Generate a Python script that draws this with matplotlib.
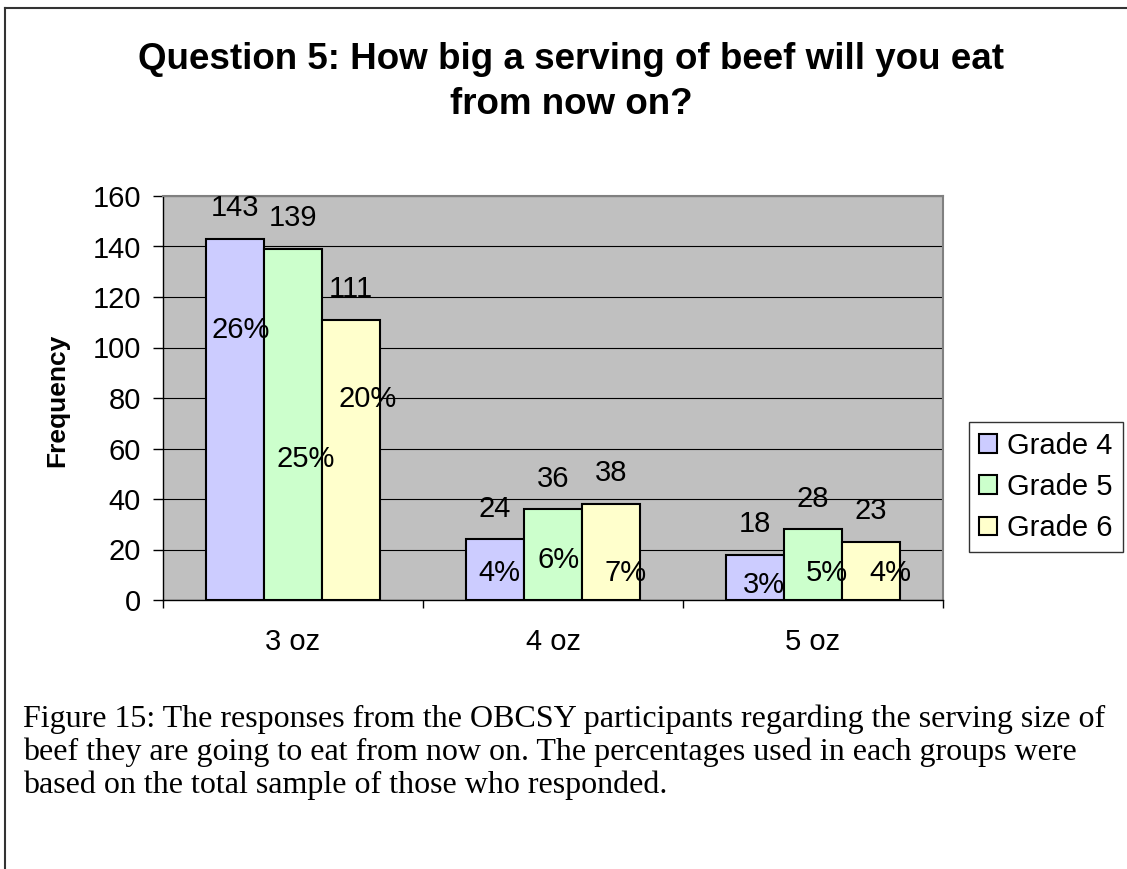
import matplotlib.pyplot as plt
from matplotlib.lines import Line2D
import numpy as np

plt.rcParams['font.family'] = ['Liberation Sans', 'DejaVu Sans']

# survey answers per serving size
sizes = ["3 oz", "4 oz", "5 oz"]
grades = ["Grade 4", "Grade 5", "Grade 6"]
grade4 = [143, 24, 18]
grade5 = [139, 36, 28]
grade6 = [111, 38, 23]
pct4 = ["26%", "4%", "3%"]
pct5 = ["25%", "6%", "5%"]
pct6 = ["20%", "7%", "4%"]

colors = ["#CCCCFF", "#CCFFCC", "#FFFFCC"]
# where the percent labels sit (y in data units, x shift in bar widths)
pct_y = [[107, 10.7, 6], [56, 15.8, 10.7], [79.6, 10.7, 10.7]]
pct_dx = [[0.09, 0.07, 0.15], [0.22, 0.1, 0.24], [0.28, 0.26, 0.34]]

fig = plt.figure(figsize=(11.27, 8.69), dpi=100)
ax = fig.add_axes([163 / 1127, 1 - 600 / 869, 780 / 1127, 404 / 869])
ax.set_facecolor("#C0C0C0")

x = np.arange(len(sizes))
w = 0.223
for i, (vals, pcts) in enumerate(zip([grade4, grade5, grade6], [pct4, pct5, pct6])):
    xs = x + (i - 1) * w
    ax.bar(xs, vals, width=w, color=colors[i], edgecolor="black", linewidth=1.5,
           label=grades[i], zorder=3)
    for j, (xi, v, p) in enumerate(zip(xs, vals, pcts)):
        ax.annotate(str(v), (xi, v), xytext=(0, 22), textcoords="offset points",
                    ha="center", va="center", fontsize=21, zorder=4)
        ax.text(xi + pct_dx[i][j] * w, pct_y[i][j], p, ha="center", va="center",
                fontsize=21, zorder=4)

ax.set_xlim(-0.5, 2.5)
ax.set_ylim(0, 160)
ax.set_yticks(range(0, 161, 20))
ax.yaxis.grid(True, color="black", linewidth=0.8, zorder=1)
ax.tick_params(axis="y", labelsize=21, direction="out", length=7, width=1, pad=9)
ax.set_xticks(x)
ax.set_xticklabels(sizes)
ax.tick_params(axis="x", which="major", length=0, labelsize=21, pad=20)
ax.set_xticks([-0.5, 0.5, 1.5, 2.5], minor=True)
ax.tick_params(axis="x", which="minor", length=6, width=1, direction="out")
for s in ["top", "right"]:
    ax.spines[s].set_color("#808080")
    ax.spines[s].set_linewidth(1.5)
for s in ["left", "bottom"]:
    ax.spines[s].set_color("black")
    ax.spines[s].set_linewidth(1)

fig.text(57 / 1127, 1 - 400 / 869, "Frequency", rotation=90, ha="center", va="center",
         fontsize=19, fontweight="bold")

fig.text(571 / 1127, 1 - 82 / 869,
         "Question 5: How big a serving of beef will you eat\nfrom now on?",
         ha="center", va="center", fontsize=26.5, fontweight="bold", linespacing=1.4)

leg = ax.legend(loc="center left", bbox_to_anchor=(969 / 1127, 1 - 487 / 869),
                bbox_transform=fig.transFigure, fontsize=21, frameon=True, fancybox=False,
                handlelength=0.6, handleheight=0.6, handletextpad=0.35, labelspacing=0.45,
                borderpad=0.35, borderaxespad=0)
leg.get_frame().set_edgecolor("black")
leg.get_frame().set_linewidth(1)

caption = ("Figure 15: The responses from the OBCSY participants regarding the serving size of\n"
           "beef they are going to eat from now on. The percentages used in each groups were\n"
           "based on the total sample of those who responded.")
fig.text(23 / 1127, 1 - 704 / 869, caption, ha="left", va="top", fontsize=23,
         family="Liberation Serif", linespacing=1.16)

# page frame on the top and left edges
fig.add_artist(Line2D([5 / 1127, 1], [1 - 8 / 869, 1 - 8 / 869], color="#333333", linewidth=1.5,
                      transform=fig.transFigure))
fig.add_artist(Line2D([5 / 1127, 5 / 1127], [0, 1 - 8 / 869], color="#333333", linewidth=1.5,
                      transform=fig.transFigure))

fig.savefig("out.png", dpi=100)
